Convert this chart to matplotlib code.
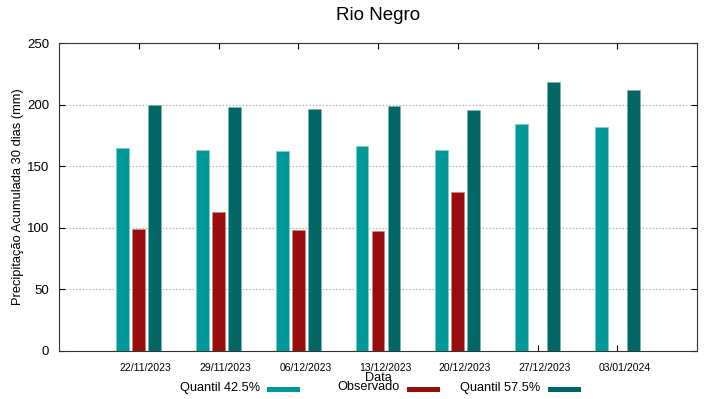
import matplotlib
matplotlib.use("Agg")
import matplotlib.pyplot as plt
from matplotlib.patches import Rectangle
from matplotlib.transforms import ScaledTranslation
import numpy as np

plt.rcParams['font.family'] = ['Liberation Sans', 'DejaVu Sans']

dates = ["22/11/2023", "29/11/2023", "06/12/2023", "13/12/2023",
         "20/12/2023", "27/12/2023", "03/01/2024"]
q425 = [164.6, 163.2, 162.4, 166.5, 163.2, 184.4, 181.9]
observado = [99.0, 112.6, 98.4, 97.6, 129.3, np.nan, np.nan]
q575 = [199.6, 198.2, 196.8, 198.7, 195.5, 218.8, 211.8]

c_q425 = "#009999"
c_obs = "#990c0c"
c_q575 = "#006666"

W, H = 719, 399
fig = plt.figure(figsize=(W / 100, H / 100), dpi=100)
ax = fig.add_axes([59 / W, 1 - 350.7 / H, (697 - 59) / W, (350.7 - 43.3) / H])

x = np.arange(len(dates))
bw = 0.16
off = 0.2
ax.bar(x - off, q425, bw, color=c_q425, edgecolor="#7fcccc", linewidth=0.5, zorder=3)
ax.bar(x, observado, bw, color=c_obs, edgecolor="#cc8585", linewidth=0.5, zorder=3)
ax.bar(x + off, q575, bw, color=c_q575, edgecolor="#7fb2b2", linewidth=0.5, zorder=3)

ax.set_xlim(-1, len(dates))
ax.set_ylim(0, 250)
ax.set_xticks(x)
ax.set_xticklabels(dates, fontsize=7.5)
ax.set_yticks([0, 50, 100, 150, 200, 250])
ax.tick_params(axis='y', labelsize=9.5, direction='in', right=True, length=4, pad=7)
ax.tick_params(axis='x', direction='in', top=True, length=4, pad=8.5)
shift = ScaledTranslation(7 / 100, 0, fig.dpi_scale_trans)
for lab in ax.get_xticklabels():
    lab.set_transform(lab.get_transform() + shift)
ax.yaxis.grid(True, linestyle=(0, (1, 2)), color="#999999", linewidth=0.8, zorder=0)
for s in ax.spines.values():
    s.set_color("#333333")
    s.set_linewidth(0.8)

ax.set_ylabel("Precipitação Acumulada 30 dias (mm)", fontsize=9.3, labelpad=2)
fig.text(378 / W, 1 - 378 / H, "Data", fontsize=9.2, ha="center", va="center")
fig.text(378 / W, 1 - 16 / H, "Rio Negro", fontsize=13.5, ha="center", va="center")

legend_items = [
    ("Quantil 42.5%", c_q425, 260, 267),
    ("Observado", c_obs, 400, 407),
    ("Quantil 57.5%", c_q575, 540, 548),
]
ly = 387.5
for label, col, tx, px in legend_items:
    fig.text(tx / W, 1 - ly / H, label, fontsize=9.2, ha="right", va="center")
    fig.patches.append(Rectangle((px / W, 1 - 391.5 / H), 33 / W, 5 / H,
                                 transform=fig.transFigure, facecolor=col,
                                 edgecolor="none", figure=fig))

fig.savefig("out.png", dpi=100)
